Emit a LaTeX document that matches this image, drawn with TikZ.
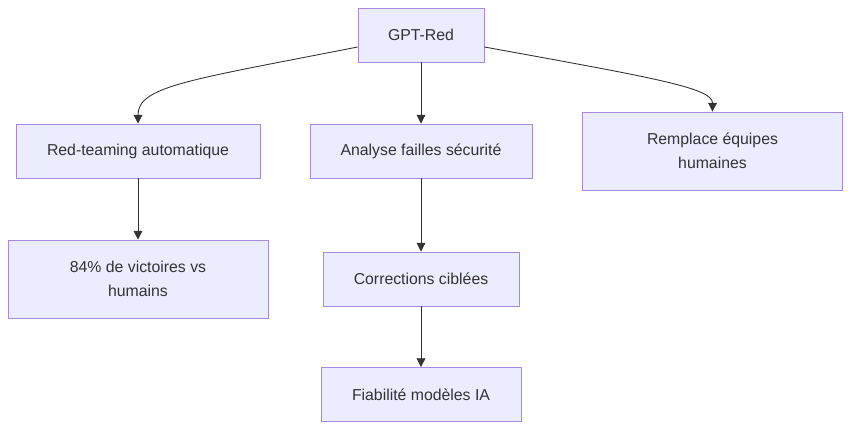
\documentclass[tikz,border=0pt]{standalone}
\usepackage{fontspec}
\setmainfont{Liberation Sans}
\usetikzlibrary{arrows.meta}
\definecolor{boxfill}{HTML}{ECECFF}
\definecolor{boxline}{HTML}{A58AE0}
\definecolor{ink}{HTML}{333333}
\begin{document}
\begin{tikzpicture}[
    x=0.02cm, y=-0.02cm,
    box/.style={rectangle, draw=boxline, fill=boxfill, line width=0.5pt, text=ink,
        align=center, inner sep=0pt, font=\fontsize{9}{13.6}\selectfont},
    link/.style={draw=ink, line width=0.5pt, -{Triangle[length=5pt,width=5pt]}},
]
\useasboundingbox (0,0) rectangle (851,430);

% Top node
\node[box, minimum width=2.52cm, minimum height=1.08cm] (gpt) at (421,35) {GPT-Red};

% Second row
\node[box, minimum width=4.88cm, minimum height=1.08cm] (redteam) at (138,151) {Red-teaming automatique};
\node[box, minimum width=4.44cm, minimum height=1.08cm] (analyse) at (421,151) {Analyse failles sécurité};
\node[box, minimum width=5.2cm, minimum height=1.56cm] (remplace) at (712.5,151) {Remplace équipes\\humaines};

% Lower rows
\node[box, minimum width=5.2cm, minimum height=1.56cm] (victoires) at (138,279) {84\% de victoires vs\\humains};
\node[box, minimum width=3.92cm, minimum height=1.08cm] (corrections) at (421,279) {Corrections ciblées};
\node[box, minimum width=4.0cm, minimum height=1.08cm] (fiabilite) at (421,394.5) {Fiabilité modèles IA};

% Connectors
\draw[link] ([yshift=-0.24cm]gpt.west) .. controls (190,80) and (138,86) .. (redteam.north);
\draw[link] (gpt) -- (analyse);
\draw[link] ([yshift=-0.24cm]gpt.east) .. controls (655,78) and (712.5,88) .. (remplace.north);
\draw[link] (redteam) -- (victoires);
\draw[link] (analyse) -- (corrections);
\draw[link] (corrections) -- (fiabilite);

\end{tikzpicture}
\end{document}
